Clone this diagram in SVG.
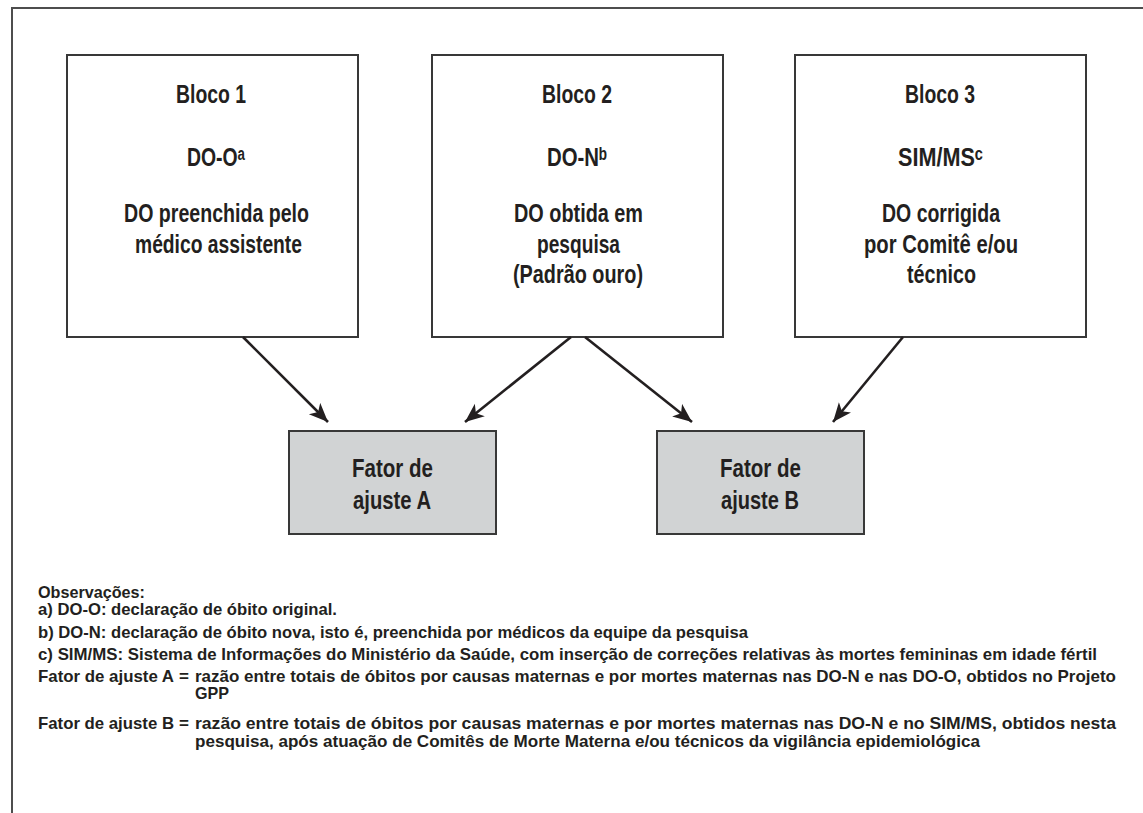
<svg xmlns="http://www.w3.org/2000/svg" width="1143" height="813" viewBox="0 0 1143 813">
<style>
text{font-family:"Liberation Sans Narrow","Liberation Sans","DejaVu Sans",Arial,sans-serif;font-weight:bold;fill:#231f20}
.big{font-size:25px}
.note{font-size:17px}
.box{fill:#ffffff;stroke:#383838;stroke-width:2}
.gbox{fill:#d1d3d4;stroke:#383838;stroke-width:2}
.arr{stroke:#231f20;stroke-width:2.6;fill:none;marker-end:url(#ah)}
</style>
<defs>
<marker id="ah" markerUnits="userSpaceOnUse" markerWidth="24" markerHeight="18" refX="19" refY="8" orient="auto">
<path d="M0,0 L19,8 L0,16 L5,8 Z" fill="#231f20"/>
</marker>
</defs>
<rect width="1143" height="813" fill="#ffffff"/>
<polyline points="1143,8 12,8 12,813" fill="none" stroke="#4d4d4d" stroke-width="2"/>

<g id="bloco1">
<rect class="box" x="67" y="55" width="291" height="282"/>
<text class="big" x="176" y="103" textLength="70" lengthAdjust="spacingAndGlyphs">Bloco 1</text>
<text class="big" x="187" y="166" textLength="58" lengthAdjust="spacingAndGlyphs">DO-Oᵃ</text>
<text class="big" x="124" y="222" textLength="185" lengthAdjust="spacingAndGlyphs">DO preenchida pelo</text>
<text class="big" x="135" y="253" textLength="167" lengthAdjust="spacingAndGlyphs">médico assistente</text>
</g>

<g id="bloco2">
<rect class="box" x="432" y="55" width="291" height="282"/>
<text class="big" x="542" y="103" textLength="70" lengthAdjust="spacingAndGlyphs">Bloco 2</text>
<text class="big" x="547" y="166" textLength="60" lengthAdjust="spacingAndGlyphs">DO-Nᵇ</text>
<text class="big" x="514" y="222" textLength="129" lengthAdjust="spacingAndGlyphs">DO obtida em</text>
<text class="big" x="537" y="253" textLength="83" lengthAdjust="spacingAndGlyphs">pesquisa</text>
<text class="big" x="513" y="283" textLength="130" lengthAdjust="spacingAndGlyphs">(Padrão ouro)</text>
</g>

<g id="bloco3">
<rect class="box" x="795" y="55" width="291" height="282"/>
<text class="big" x="905" y="103" textLength="70" lengthAdjust="spacingAndGlyphs">Bloco 3</text>
<text class="big" x="898" y="166" textLength="85" lengthAdjust="spacingAndGlyphs">SIM/MSᶜ</text>
<text class="big" x="882" y="222" textLength="118" lengthAdjust="spacingAndGlyphs">DO corrigida</text>
<text class="big" x="864" y="253" textLength="154" lengthAdjust="spacingAndGlyphs">por Comitê e/ou</text>
<text class="big" x="907" y="283" textLength="69" lengthAdjust="spacingAndGlyphs">técnico</text>
</g>

<g id="fatorA">
<rect class="gbox" x="289" y="431" width="207" height="103"/>
<text class="big" x="352" y="477" textLength="81" lengthAdjust="spacingAndGlyphs">Fator de</text>
<text class="big" x="353" y="509" textLength="78" lengthAdjust="spacingAndGlyphs">ajuste A</text>
</g>

<g id="fatorB">
<rect class="gbox" x="657" y="431" width="207" height="103"/>
<text class="big" x="720" y="477" textLength="81" lengthAdjust="spacingAndGlyphs">Fator de</text>
<text class="big" x="721" y="509" textLength="78" lengthAdjust="spacingAndGlyphs">ajuste B</text>
</g>

<g id="connectors">
<line class="arr" x1="243" y1="337" x2="328" y2="422"/>
<line class="arr" x1="571" y1="337" x2="465" y2="422"/>
<line class="arr" x1="585" y1="337" x2="692" y2="422"/>
<line class="arr" x1="903" y1="337" x2="833" y2="422"/>
</g>

<g id="notes">
<text class="note" x="38" y="598" textLength="107" lengthAdjust="spacingAndGlyphs">Observações:</text>
<text class="note" x="38" y="615" textLength="299" lengthAdjust="spacingAndGlyphs">a) DO-O: declaração de óbito original.</text>
<text class="note" x="38" y="638" textLength="710" lengthAdjust="spacingAndGlyphs">b) DO-N: declaração de óbito nova, isto é, preenchida por médicos da equipe da pesquisa</text>
<text class="note" x="38" y="660" textLength="1059" lengthAdjust="spacingAndGlyphs">c)  SIM/MS: Sistema de Informações do Ministério da Saúde, com inserção de correções relativas às mortes femininas em idade fértil</text>
<text class="note" x="38" y="682" textLength="136" lengthAdjust="spacingAndGlyphs">Fator de ajuste A</text>
<text class="note" x="179" y="682">=</text>
<text class="note" x="195" y="682" textLength="921" lengthAdjust="spacingAndGlyphs">razão entre totais de óbitos por causas maternas e por mortes maternas nas DO-N e nas DO-O, obtidos no Projeto</text>
<text class="note" x="195" y="699" textLength="34" lengthAdjust="spacingAndGlyphs">GPP</text>
<text class="note" x="38" y="729" textLength="136" lengthAdjust="spacingAndGlyphs">Fator de ajuste B</text>
<text class="note" x="179" y="729">=</text>
<text class="note" x="195" y="729" textLength="921" lengthAdjust="spacingAndGlyphs">razão entre totais de óbitos por causas maternas e por mortes  maternas nas DO-N e no SIM/MS, obtidos nesta</text>
<text class="note" x="195" y="747" textLength="785" lengthAdjust="spacingAndGlyphs">pesquisa, após atuação de Comitês de Morte Materna e/ou técnicos da  vigilância epidemiológica</text>
</g>
</svg>
